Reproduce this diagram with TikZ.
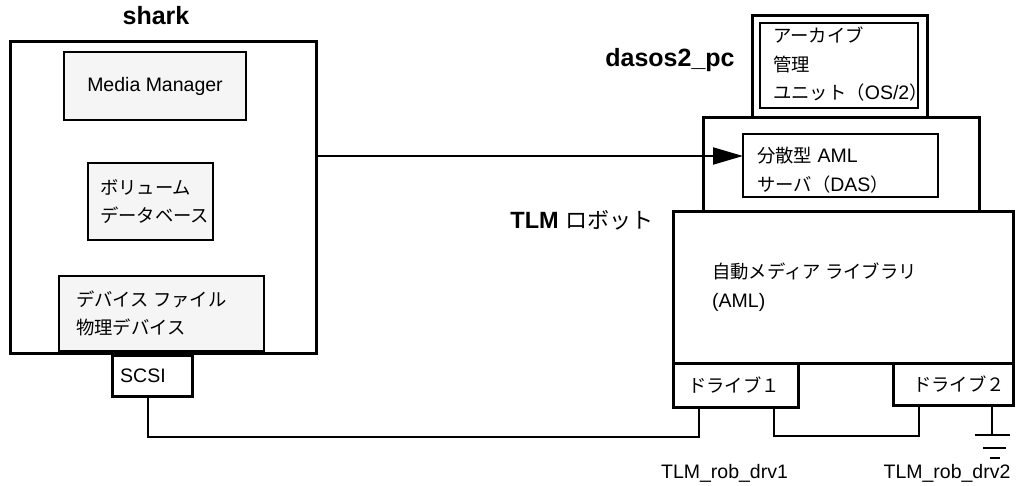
\documentclass[tikz,border=0pt]{standalone}
\usepackage{fontspec}
\setmainfont{Liberation Sans}
\newfontfamily\jpfont{Noto Sans CJK JP}[Scale=0.94]
\usetikzlibrary{positioning,arrows.meta}
\newcommand{\jp}[1]{{\jpfont #1}}

\begin{document}
\begin{tikzpicture}[x=1pt, y=-1pt,
  hostbox/.style={draw, line width=3pt, inner sep=0pt, outer sep=0pt},
  modbox/.style={draw, line width=2pt, fill=gray!8, inner sep=0pt, outer sep=0pt},
  plainbox/.style={draw, line width=2pt, fill=white, inner sep=0pt, outer sep=0pt},
  portbox/.style={draw, line width=3pt, fill=white, inner sep=0pt, outer sep=0pt},
  txt/.style={font=\fontsize{19.5}{28.5}\selectfont, align=left,
              inner sep=0pt, anchor=west},
  ttl/.style={font=\bfseries\fontsize{25}{30}\selectfont, inner sep=0pt},
  wire/.style={line width=2pt},
  arr/.style={line width=2pt, -{Triangle[length=30pt, width=17pt]}},
]
  \useasboundingbox (0,0) rectangle (1016,485);

  % host shark
  \node[hostbox, minimum width=306pt, minimum height=312pt] (shark) at (163,197) {};
  \node[ttl] (sharkt) at (156,16) {shark};
  \node[modbox, minimum width=182pt, minimum height=68pt,
        font=\fontsize{19.5}{28.5}\selectfont] (mm) at (155,86) {Media Manager};
  \node[modbox, minimum width=125pt, minimum height=77pt] (vdb) at (150.5,201.5) {};
  \node[txt] (vdbt) at ([xshift=12pt]vdb.west) {\jp{ボリューム}\\\jp{データベース}};
  \node[modbox, minimum width=205pt, minimum height=75pt] (dev) at (161.5,313.5) {};
  \node[txt] (devt) at ([xshift=17pt]dev.west) {\jp{デバイス ファイル}\\\jp{物理デバイス}};
  \node[portbox, minimum width=80pt, minimum height=41pt] (scsi) at (152,375.5) {};
  \node[txt] (scsit) at ([xshift=8pt]scsi.west) {SCSI};

  % dasos2_pc
  \node[ttl] (dasost) at (670,60) {dasos2\_pc};
  \node[hostbox, minimum width=175pt, minimum height=102pt] (arch) at (839.5,66) {};
  \node[plainbox, minimum width=158pt, minimum height=85pt] (archin) at (839,65.5) {};
  \node[txt] (archt) at ([xshift=13pt, yshift=1pt]archin.west)
    {\jp{アーカイブ}\\\jp{管理}\\\jp{ユニット（}OS/2\jp{）}};
  \node[hostbox, minimum width=276pt, minimum height=94pt] (dashost) at (841,164) {};
  \node[plainbox, minimum width=195pt, minimum height=63pt] (das) at (840.5,165.5) {};
  \node[txt] (dast) at ([xshift=14pt, yshift=-4.5pt]das.west)
    {\jp{分散型} AML\\\jp{サーバ（}DAS\jp{）}};

  % robot
  \node[ttl, font=\bfseries\fontsize{23.5}{28}\selectfont] (robt) at (582,220)
    {TLM \jp{\mdseries ロボット}};
  \node[hostbox, minimum width=340pt, minimum height=152pt] (aml) at (843,287) {};
  \node[txt] (amlt) at ([xshift=39pt]aml.west)
    {\jp{自動メディア ライブラリ}\\(AML)};
  \node[portbox, minimum width=125pt, minimum height=44pt] (drv1) at (735.5,385) {};
  \node[txt] (drv1t) at ([xshift=15pt]drv1.west) {\jp{ドライブ１}};
  \node[portbox, minimum width=120pt, minimum height=42pt] (drv2) at (953,384) {};
  \node[txt] (drv2t) at ([xshift=20pt]drv2.west) {\jp{ドライブ２}};
  \node[txt, anchor=center] (drv1n) at (724.5,473) {TLM\_rob\_drv1};
  \node[txt, anchor=center] (drv2n) at (947,473) {TLM\_rob\_drv2};

  % connections
  \coordinate (arrin) at ([yshift=9.5pt]das.west);
  \draw[arr] (arrin -| shark.east) -- (arrin);
  \draw[wire] ([xshift=-4pt]scsi.south) -- ++(0,41) -| ([xshift=-36.5pt]drv1.south);
  \draw[wire] ([xshift=38.5pt]drv1.south) -- ++(0,29) -| ([xshift=-34pt]drv2.south);
  \draw[wire] ([xshift=39pt]drv2.south) -- ++(0,30) coordinate (gnd);
  \draw[wire] ([xshift=-17pt]gnd) -- ([xshift=18pt]gnd);
  \draw[wire] ([xshift=-9pt, yshift=-13pt]gnd) -- ([xshift=14pt, yshift=-13pt]gnd);
  \draw[wire] ([xshift=-2pt, yshift=-23pt]gnd) -- ([xshift=8pt, yshift=-23pt]gnd);
\end{tikzpicture}
\end{document}
